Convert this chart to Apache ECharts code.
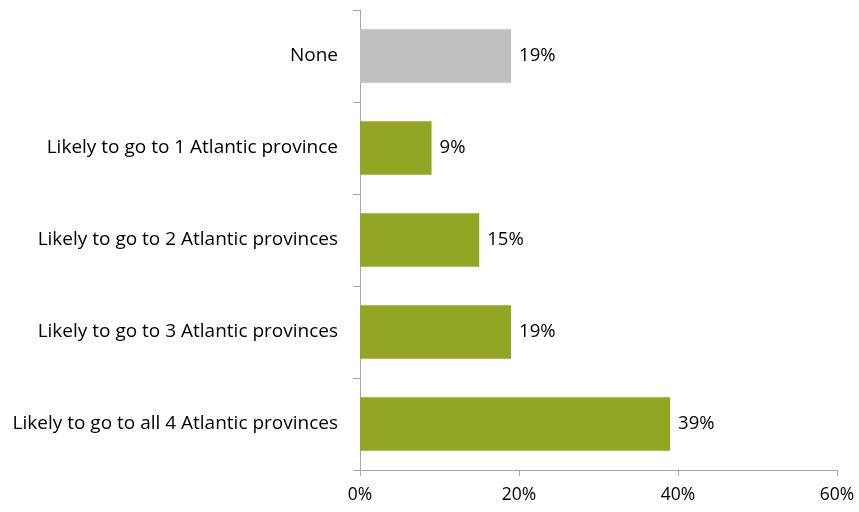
<!DOCTYPE html>
<html>
<head>
<meta charset="utf-8">
<script src="https://cdn.jsdelivr.net/npm/echarts@6/dist/echarts.min.js"></script>
<style>
  html, body { margin: 0; padding: 0; background: #fff; }
  #chart { width: 859px; height: 512px; }
</style>
</head>
<body>
<div id="chart"></div>
<script>
// Share of respondents by number of Atlantic provinces they are likely to visit
const categories = [
  'Likely to go to all 4 Atlantic provinces',
  'Likely to go to 3 Atlantic provinces',
  'Likely to go to 2 Atlantic provinces',
  'Likely to go to 1 Atlantic province',
  'None'
];
const values = [39, 19, 15, 9, 19];
const barColors = ['#92A525', '#92A525', '#92A525', '#92A525', '#BFBFBF'];
const xTicks = [0, 20, 40, 60];

const FONT = '"Open Sans", sans-serif';
const chart = echarts.init(document.getElementById('chart'));

chart.setOption({
  animation: false,
  grid: { left: 360, right: 22, top: 10, bottom: 42, containLabel: false },
  xAxis: {
    type: 'value',
    min: xTicks[0],
    max: xTicks[xTicks.length - 1],
    interval: xTicks[1] - xTicks[0],
    axisLine: { show: true, lineStyle: { color: '#A6A6A6', width: 1 } },
    axisTick: { show: true, length: 6, lineStyle: { color: '#A6A6A6' } },
    splitLine: { show: false },
    axisLabel: {
      formatter: v => v + '%',
      color: '#000',
      fontFamily: FONT,
      fontSize: 17.5,
      margin: 16
    }
  },
  yAxis: {
    type: 'category',
    data: categories,
    axisLine: { show: true, lineStyle: { color: '#A6A6A6', width: 1 } },
    axisTick: { show: true, length: 7, alignWithLabel: false, lineStyle: { color: '#A6A6A6' } },
    axisLabel: {
      color: '#000',
      fontFamily: FONT,
      fontSize: 19,
      margin: 22
    }
  },
  series: [{
    type: 'bar',
    data: values.map((v, i) => ({ value: v, itemStyle: { color: barColors[i] } })),
    barCategoryGap: '42%',
    label: {
      show: true,
      position: 'right',
      distance: 8,
      formatter: p => p.value + '%',
      color: '#000',
      fontFamily: FONT,
      fontSize: 18.5
    }
  }]
});
</script>
</body>
</html>
